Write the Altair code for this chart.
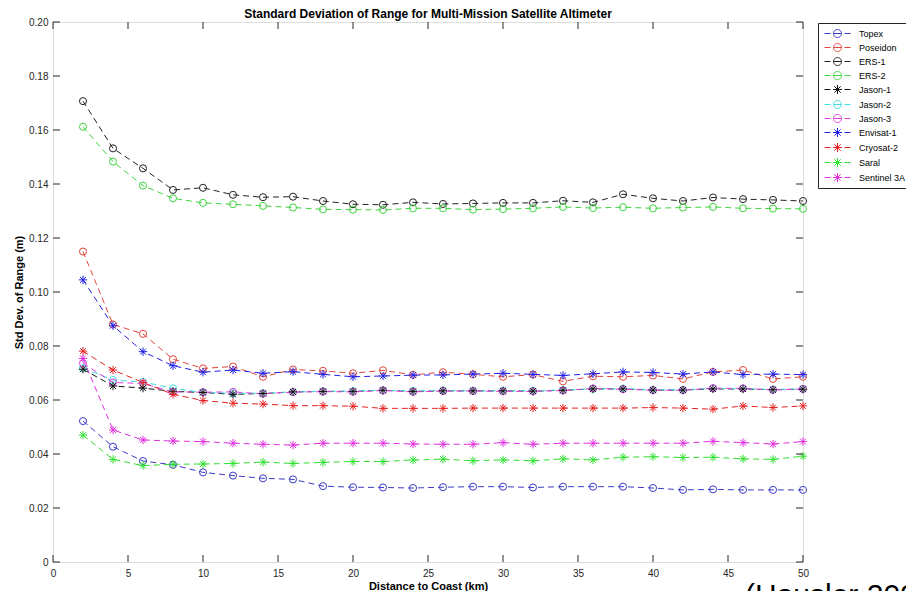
import altair as alt
import pandas as pd
import math

# ---------------- data ----------------
distance = [2, 4, 6, 8, 10, 12, 14, 16, 18, 20, 22, 24, 26, 28, 30, 32, 34, 36, 38, 40, 42, 44, 46, 48, 50]

topex = [0.0522, 0.0427, 0.0374, 0.0360, 0.0332, 0.0320, 0.0310, 0.0306, 0.0281, 0.0277, 0.0276, 0.0274, 0.0277,
         0.0279, 0.0279, 0.0276, 0.0279, 0.0279, 0.0279, 0.0274, 0.0267, 0.0269, 0.0267, 0.0267, 0.0267]
poseidon = [0.1150, 0.0880, 0.0845, 0.0751, 0.0717, 0.0724, 0.0686, 0.0713, 0.0708, 0.0699, 0.0710, 0.0693, 0.0703,
            0.0695, 0.0686, 0.0694, 0.0669, 0.0688, 0.0686, 0.0691, 0.0678, 0.0704, 0.0711, 0.0678, 0.0686]
ers1 = [0.1707, 0.1532, 0.1458, 0.1378, 0.1386, 0.1360, 0.1351, 0.1353, 0.1337, 0.1325, 0.1323, 0.1332, 0.1326,
        0.1328, 0.1330, 0.1330, 0.1338, 0.1332, 0.1362, 0.1347, 0.1337, 0.1350, 0.1344, 0.1341, 0.1337]
ers2 = [0.1612, 0.1483, 0.1394, 0.1347, 0.1330, 0.1325, 0.1319, 0.1313, 0.1306, 0.1305, 0.1304, 0.1310, 0.1310,
        0.1305, 0.1307, 0.1310, 0.1315, 0.1311, 0.1314, 0.1310, 0.1313, 0.1315, 0.1310, 0.1309, 0.1308]
jason1 = [0.0714, 0.0652, 0.0644, 0.0632, 0.0628, 0.0621, 0.0624, 0.0630, 0.0632, 0.0632, 0.0636, 0.0632, 0.0634,
          0.0634, 0.0634, 0.0633, 0.0636, 0.0641, 0.0641, 0.0637, 0.0637, 0.0641, 0.0641, 0.0638, 0.0640]
jason2 = [0.0718, 0.0674, 0.0667, 0.0643, 0.0628, 0.0625, 0.0625, 0.0630, 0.0632, 0.0633, 0.0636, 0.0633, 0.0635,
          0.0634, 0.0634, 0.0634, 0.0637, 0.0641, 0.0642, 0.0638, 0.0638, 0.0643, 0.0642, 0.0639, 0.0641]
jason3 = [0.0736, 0.0665, 0.0661, 0.0630, 0.0629, 0.0630, 0.0623, 0.0629, 0.0631, 0.0630, 0.0635, 0.0630, 0.0633,
          0.0633, 0.0632, 0.0632, 0.0635, 0.0643, 0.0640, 0.0636, 0.0636, 0.0644, 0.0643, 0.0637, 0.0641]
envisat1 = [0.1045, 0.0875, 0.0779, 0.0727, 0.0703, 0.0711, 0.0699, 0.0705, 0.0695, 0.0686, 0.0689, 0.0692, 0.0693,
            0.0696, 0.0699, 0.0695, 0.0691, 0.0697, 0.0704, 0.0702, 0.0696, 0.0704, 0.0694, 0.0696, 0.0694]
cryosat2 = [0.0781, 0.0711, 0.0665, 0.0621, 0.0598, 0.0588, 0.0585, 0.0579, 0.0579, 0.0577, 0.0569, 0.0569, 0.0569,
            0.0570, 0.0570, 0.0570, 0.0570, 0.0570, 0.0570, 0.0572, 0.0570, 0.0566, 0.0578, 0.0572, 0.0578]
saral = [0.0470, 0.0380, 0.0357, 0.0362, 0.0363, 0.0365, 0.0370, 0.0365, 0.0369, 0.0372, 0.0372, 0.0378, 0.0381,
         0.0375, 0.0378, 0.0375, 0.0382, 0.0378, 0.0388, 0.0390, 0.0387, 0.0388, 0.0382, 0.0380, 0.0392]
sentinel3a = [0.0754, 0.0489, 0.0452, 0.0448, 0.0446, 0.0440, 0.0436, 0.0433, 0.0440, 0.0440, 0.0440, 0.0437, 0.0436,
              0.0436, 0.0442, 0.0436, 0.0440, 0.0440, 0.0440, 0.0440, 0.0440, 0.0447, 0.0442, 0.0437, 0.0446]

names = ["Topex", "Poseidon", "ERS-1", "ERS-2", "Jason-1", "Jason-2", "Jason-3",
         "Envisat-1", "Cryosat-2", "Saral", "Sentinel 3A"]
markers = ["o", "o", "o", "o", "*", "o", "o", "*", "*", "*", "*"]
series_values = [topex, poseidon, ers1, ers2, jason1, jason2, jason3, envisat1, cryosat2, saral, sentinel3a]
colors = ["#3a3ac6", "#e0453c", "#222222", "#3fd43f", "#111111", "#3fdede",
          "#de3fde", "#1f1fe6", "#e62222", "#2fe02f", "#e02fe0"]

x_ticks = [0, 5, 10, 15, 20, 25, 30, 35, 40, 45, 50]
y_ticks = [0, 0.02, 0.04, 0.06, 0.08, 0.10, 0.12, 0.14, 0.16, 0.18, 0.20]

title_text = "Standard Deviation of Range for Multi-Mission Satellite Altimeter"
x_title = "Distance to Coast (km)"
y_title = "Std Dev. of Range (m)"
citation = "(Hausler 2008)"

# ---------------- shapes ----------------
ASTER = ("M-1,0L1,0M0,-1L0,1M-0.7071,-0.7071L0.7071,0.7071"
         "M-0.7071,0.7071L0.7071,-0.7071")

# legend symbol (unit = 7 px, symbol size 196): "- o -" shifted right so it starts near the box edge
U = 7.0


def u(px):
    return px / U


def poly_circle(cx, r, n=24):
    pts = []
    for i in range(n + 1):
        a = 2 * math.pi * i / n
        pts.append(f"{cx + r*math.cos(a):.4f},{r*math.sin(a):.4f}")
    return "M" + "L".join(pts)


def aster_at(cx, r):
    d = r * 0.7071
    return (f"M{cx - r:.4f},0L{cx + r:.4f},0M{cx:.4f},{-r:.4f}L{cx:.4f},{r:.4f}"
            f"M{cx - d:.4f},{-d:.4f}L{cx + d:.4f},{d:.4f}"
            f"M{cx - d:.4f},{d:.4f}L{cx + d:.4f},{-d:.4f}")


CX = u(9)
DASHES = (f"M{u(-4):.4f},0L{u(2):.4f},0"
          f"M{u(5):.4f},0L{u(13):.4f},0"
          f"M{u(16):.4f},0L{u(22):.4f},0")
legend_shapes = [DASHES + (poly_circle(CX, u(4)) if m == "o" else aster_at(CX, u(4.5))) for m in markers]

rows = []
for name, mk, vals in zip(names, markers, series_values):
    for d, v in zip(distance, vals):
        rows.append({"series": name, "marker": mk, "distance": d, "std": v})
df = pd.DataFrame(rows)

W, H = 750, 540
FONT = "Liberation Sans"
AX = "#262626"

xscale = alt.Scale(domain=[0, 50], nice=False, zero=False)
yscale = alt.Scale(domain=[0, 0.2], nice=False)
cscale = alt.Scale(domain=names, range=colors)

xenc = alt.X("distance:Q", scale=xscale,
             axis=alt.Axis(values=x_ticks, title=x_title, tickSize=0, domain=False, grid=False,
                           labelFlush=False,
                           labelFontSize=10, labelColor=AX, labelFont=FONT, labelPadding=6,
                           titleFont=FONT, titleFontSize=11, titleFontWeight="bold", titleColor="black",
                           titlePadding=2))
yenc = alt.Y("std:Q", scale=yscale,
             axis=alt.Axis(values=y_ticks, title=y_title, tickSize=0, domain=False, grid=False,
                           labelFlush=False,
                           labelExpr="datum.value == 0 ? '0' : format(datum.value, '.2f')",
                           labelFontSize=10, labelColor=AX, labelFont=FONT, labelPadding=5,
                           titleFont=FONT, titleFontSize=11, titleFontWeight="bold", titleColor="black",
                           titlePadding=4))

base = alt.Chart(df)

legend_spec = alt.Legend(title=None, orient="none", legendX=765, legendY=1,
                         strokeColor=AX, fillColor="white", padding=3,
                         symbolSize=196, symbolStrokeWidth=1,
                         labelFontSize=9, labelFont=FONT, labelColor="black",
                         labelOffset=23, rowPadding=0)

# legend-only layer (first, so its legend settings win the merge)
legend_layer = base.transform_filter("false").mark_point(
    filled=False, strokeWidth=1, opacity=1).encode(
    x=xenc, y=yenc,
    color=alt.Color("series:N", scale=cscale, legend=legend_spec),
    shape=alt.Shape("series:N", scale=alt.Scale(domain=names, range=legend_shapes), legend=legend_spec),
)

lines = base.mark_line(strokeDash=[6, 4], strokeWidth=1, opacity=1).encode(
    x="distance:Q", y="std:Q",
    color=alt.Color("series:N", scale=cscale, legend=None),
    detail="series:N",
)

circles = base.transform_filter("datum.marker == 'o'").mark_point(
    shape="circle", filled=False, size=50, strokeWidth=1, opacity=1).encode(
    x="distance:Q", y="std:Q",
    color=alt.Color("series:N", scale=cscale, legend=None),
)

stars = base.transform_filter("datum.marker == '*'").mark_point(
    shape=ASTER, filled=False, size=70, strokeWidth=1, opacity=1).encode(
    x="distance:Q", y="std:Q",
    color=alt.Color("series:N", scale=cscale, legend=None),
)

xt = pd.DataFrame({"t": x_ticks})
yt = pd.DataFrame({"t": y_ticks})
TL = 7
tick_bottom = alt.Chart(xt).mark_rule(color=AX, strokeWidth=1).encode(
    x=alt.X("t:Q", scale=xscale), y=alt.value(H), y2=alt.value(H - TL))
tick_top = alt.Chart(xt).mark_rule(color=AX, strokeWidth=1).encode(
    x=alt.X("t:Q", scale=xscale), y=alt.value(0), y2=alt.value(TL))
tick_left = alt.Chart(yt).mark_rule(color=AX, strokeWidth=1).encode(
    y=alt.Y("t:Q", scale=yscale), x=alt.value(0), x2=alt.value(TL))
tick_right = alt.Chart(yt).mark_rule(color=AX, strokeWidth=1).encode(
    y=alt.Y("t:Q", scale=yscale), x=alt.value(W), x2=alt.value(W - TL))

cite = alt.Chart(pd.DataFrame({"c": [citation]})).mark_text(
    align="left", baseline="alphabetic", fontSize=30, font=FONT, color="black").encode(
    text="c:N", x=alt.value(692), y=alt.value(583))

chart = alt.layer(
    legend_layer, lines, circles, stars,
    tick_bottom, tick_top, tick_left, tick_right, cite
).properties(
    width=W, height=H,
    title=alt.TitleParams(title_text, font=FONT, fontSize=12, fontWeight="bold", color="black",
                          anchor="middle", frame="group", offset=0, dy=4),
    autosize=alt.AutoSizeParams(type="none"),
    padding={"left": 45, "top": 14, "right": 103, "bottom": 29},
).configure_view(stroke=AX, strokeWidth=1).configure(background="white")

chart.save("out.html", embed_options={"renderer": "svg", "actions": False})
